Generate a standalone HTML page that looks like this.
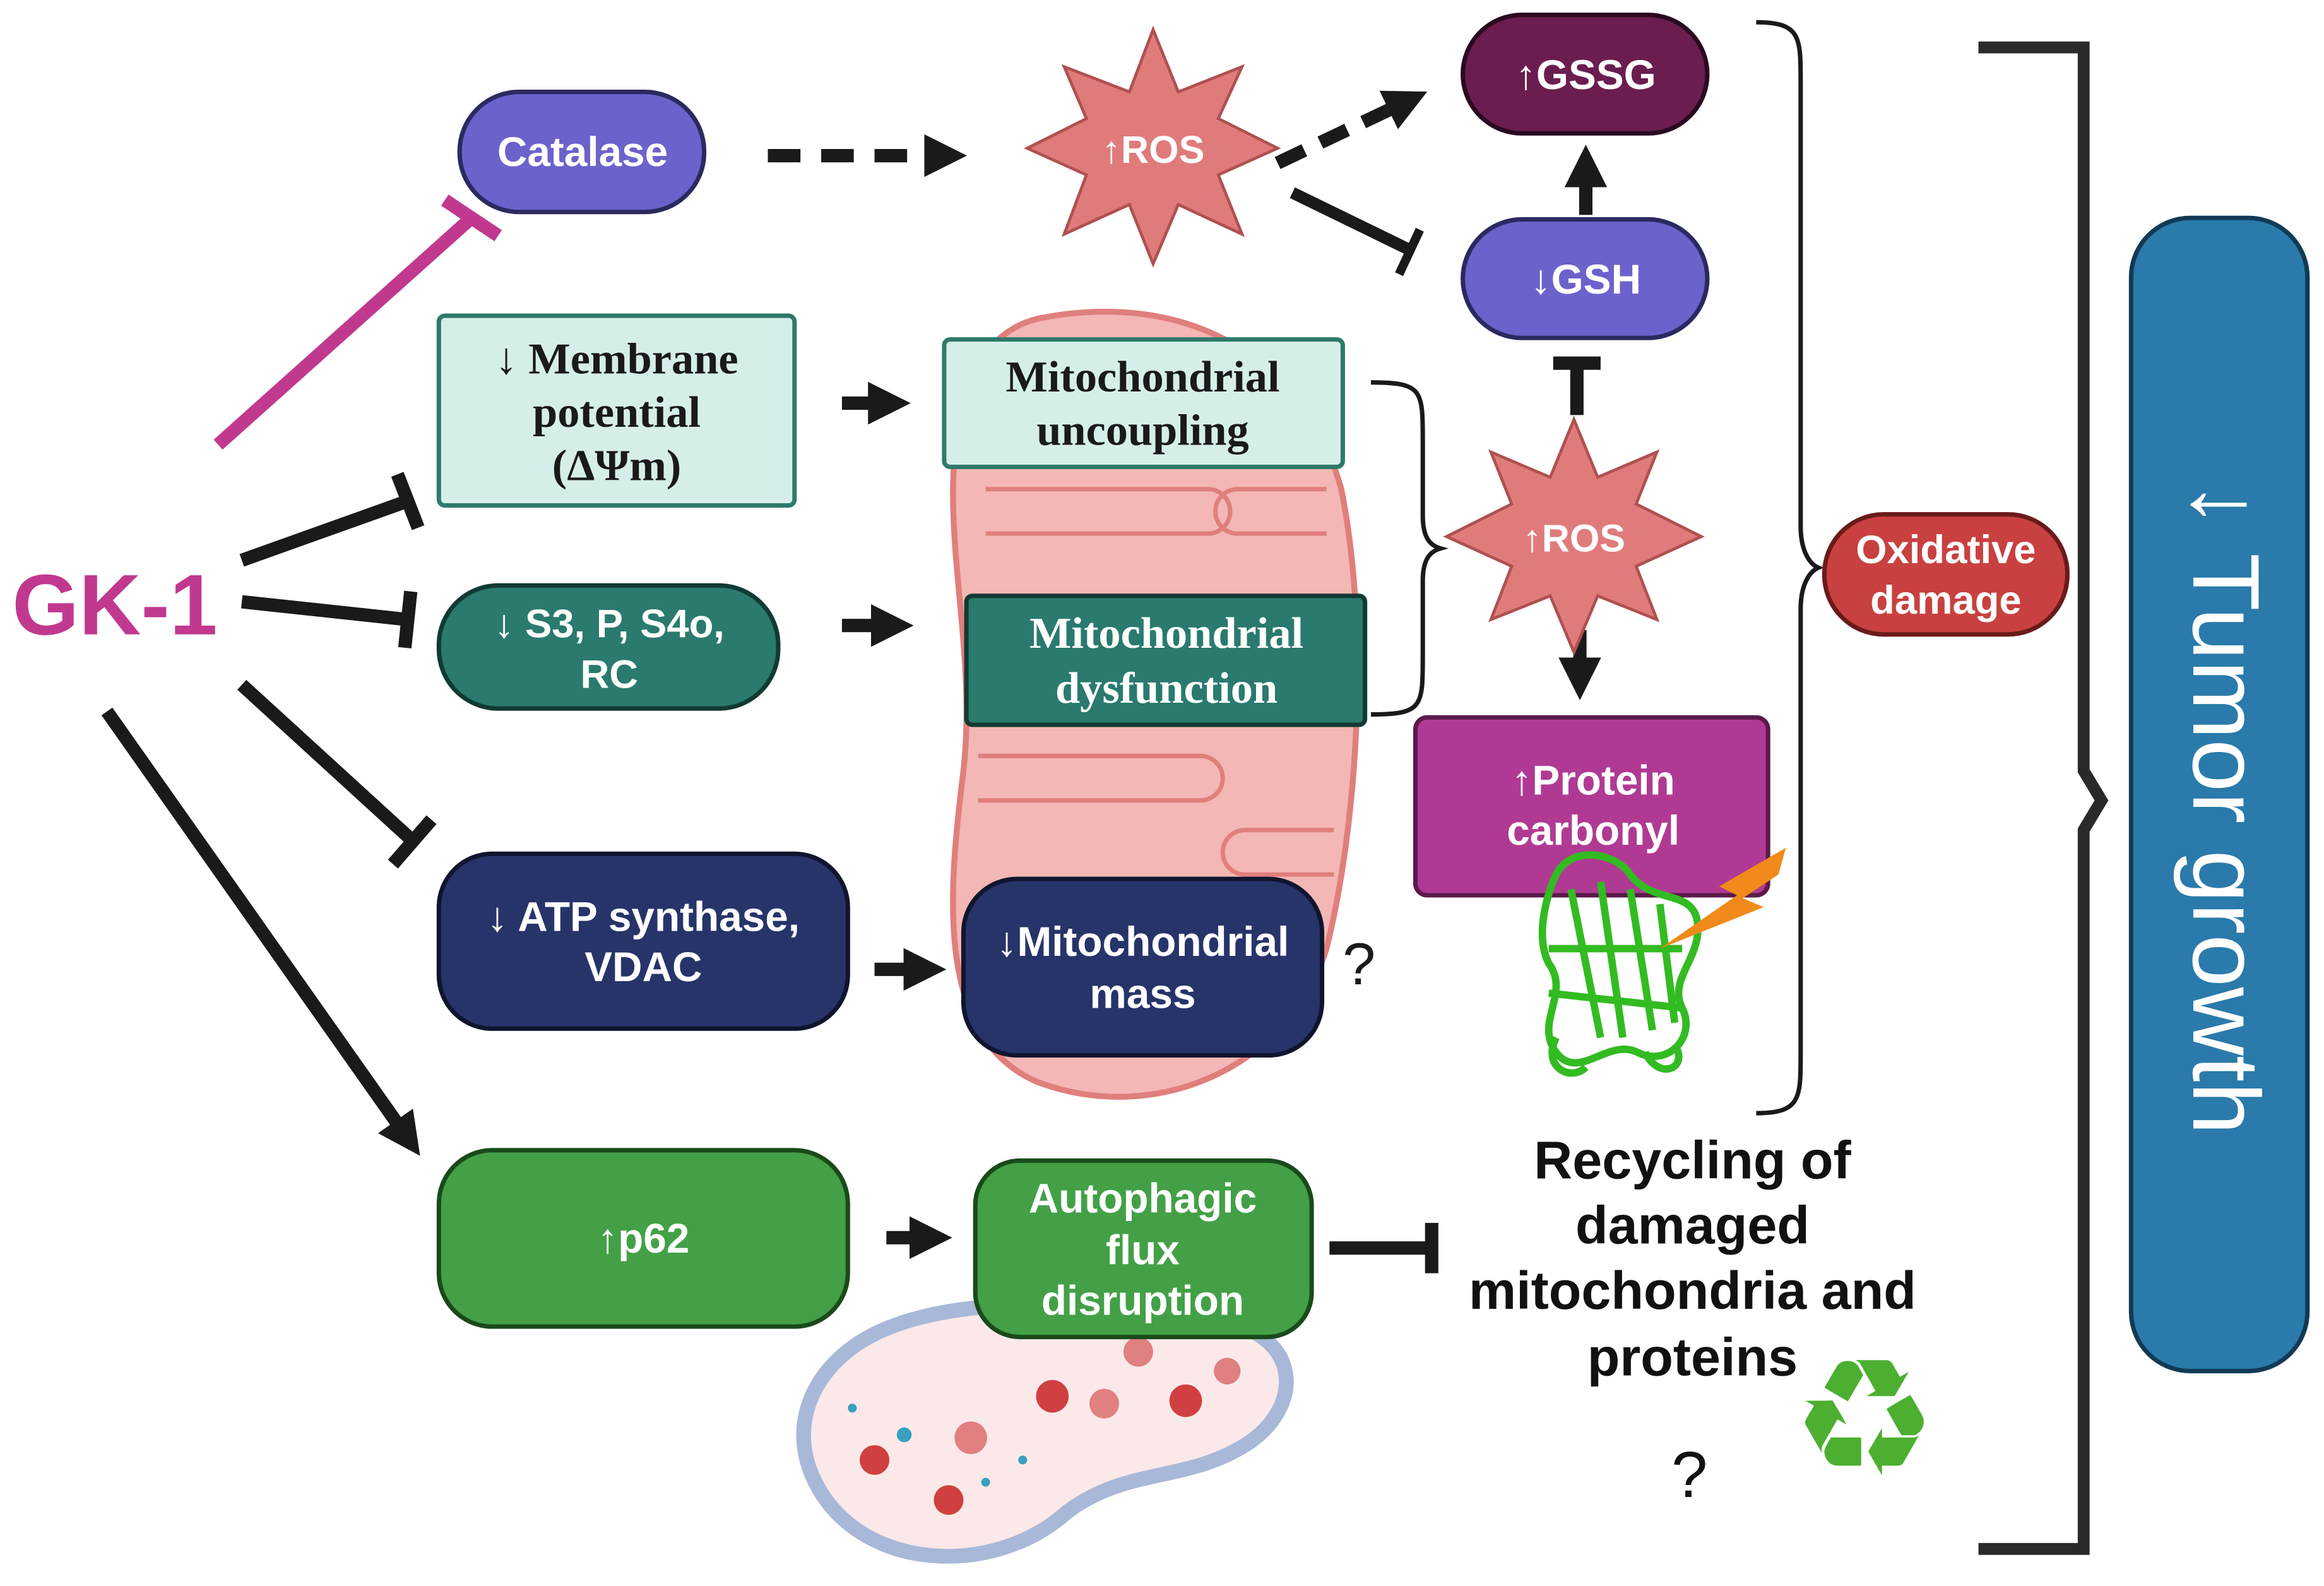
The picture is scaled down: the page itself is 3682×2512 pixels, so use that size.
<!DOCTYPE html>
<html><head><meta charset="utf-8"><style>
html,body{margin:0;padding:0;background:#fff}
svg{display:block}
.s{font-family:"Liberation Sans",sans-serif;font-weight:bold;fill:#fff}
.r{font-family:"Liberation Serif",serif;font-weight:bold;fill:#1a1a1a}
</style></head><body>
<svg width="3682" height="2512" viewBox="0 0 1568 1070" xmlns="http://www.w3.org/2000/svg">
<defs>
<marker id="ah" viewBox="0 0 10 10" refX="5" refY="5" markerWidth="3.2" markerHeight="3.2" orient="auto"><path d="M0,0L10,5L0,10z" fill="#1a1a1a"/></marker>
</defs>
<rect width="1568" height="1070" fill="#fff"/>
<path d="M700,215 C800,195 880,240 905,330 C925,430 915,560 895,640 C870,720 780,760 700,730 C630,700 640,600 650,520 C660,430 630,350 650,270 C660,235 680,220 700,215Z" fill="#f3b7b5" stroke="#e07f7c" stroke-width="4"/>
<g fill="none" stroke="#e07f7c" stroke-width="3">
<path d="M665,330 h150 a15,15 0 0 1 0,30 h-150"/>
<path d="M895,330 h-60 a15,15 0 0 0 0,30 h60"/>
<path d="M660,510 h150 a15,15 0 0 1 0,30 h-150"/>
<path d="M900,560 h-60 a15,15 0 0 0 0,30 h60"/>
</g>
<path d="M590,900 C650,870 760,880 820,890 C880,900 880,950 840,975 C800,1000 760,990 720,1020 C670,1065 580,1060 550,1000 C530,960 550,920 590,900Z" fill="#fbe9e9" stroke="#a8b8d8" stroke-width="10"/>
<g fill="#d04040"><circle cx="710" cy="942" r="11"/><circle cx="800" cy="945" r="11"/><circle cx="590" cy="985" r="10"/><circle cx="640" cy="1012" r="10"/><circle cx="655" cy="970" r="11" fill="#e08080"/><circle cx="768" cy="912" r="10" fill="#e08080"/><circle cx="745" cy="947" r="10" fill="#e08080"/><circle cx="828" cy="925" r="9" fill="#e08080"/></g>
<g fill="#3a9fc0"><circle cx="610" cy="968" r="5"/><circle cx="575" cy="950" r="3"/><circle cx="665" cy="1000" r="3"/><circle cx="690" cy="985" r="3"/></g>
<g stroke="#1a1a1a" stroke-width="9" fill="none">
<line x1="147" y1="300" x2="318" y2="147" stroke="#c0398f"/>
<line x1="300" y1="135" x2="336" y2="159" stroke="#c0398f"/>
<line x1="163" y1="378" x2="275" y2="338"/><line x1="268" y1="320" x2="282" y2="356"/>
<line x1="163" y1="406" x2="275" y2="418"/><line x1="277" y1="399" x2="273" y2="437"/>
<line x1="163" y1="462" x2="278" y2="567"/><line x1="265" y1="583" x2="291" y2="553"/>
<line x1="72" y1="480" x2="275" y2="768" marker-end="url(#ah)"/>
<line x1="568" y1="272" x2="600" y2="272" marker-end="url(#ah)"/>
<line x1="568" y1="422" x2="602" y2="422" marker-end="url(#ah)"/>
<line x1="590" y1="654" x2="624" y2="654" marker-end="url(#ah)"/>
<line x1="598" y1="835" x2="628" y2="835" marker-end="url(#ah)"/>
<line x1="897" y1="842" x2="962" y2="842"/><line x1="966" y1="825" x2="966" y2="859"/>
<line x1="518" y1="105" x2="638" y2="105" stroke-dasharray="22,14" marker-end="url(#ah)"/>
<line x1="862" y1="110" x2="950" y2="68" stroke-dasharray="20,12" marker-end="url(#ah)"/>
<line x1="872" y1="130" x2="950" y2="168" stroke-width="8"/><line x1="944" y1="185" x2="958" y2="155" stroke-width="6"/>
<line x1="1070" y1="145" x2="1070" y2="112" marker-end="url(#ah)"/>
<line x1="1064" y1="280" x2="1064" y2="245"/><line x1="1048" y1="245" x2="1080" y2="245"/>
<line x1="1066" y1="425" x2="1066" y2="458" marker-end="url(#ah)"/>
</g>
<g fill="none" stroke="#1a1a1a" stroke-width="3">
<path d="M925,258 c35,0 35,5 35,40 v50 c0,15 5,20 12,22 c-7,2 -12,7 -12,22 v50 c0,35 0,40 -35,40"/>
<path d="M1185,15 c30,0 30,10 30,40 v300 c0,15 5,25 12,28 c-7,3 -12,13 -12,28 v300 c0,30 0,40 -30,40"/>
</g>
<path d="M1335,32 H1406 V520 L1418,540 L1406,560 V1045 H1335" fill="none" stroke="#2a2a2a" stroke-width="8"/>
<polygon points="778,20 795,62 838,45 822,80 862,100 822,118 838,158 795,138 778,178 762,138 718,158 733,118 693,100 733,80 718,45 762,62" fill="#e07b7b" stroke="#b05050" stroke-width="2"/>
<text x="778" y="110" text-anchor="middle" class="s" font-size="26">↑ROS</text>
<polygon points="1062,283 1078,322 1118,305 1104,340 1148,362 1104,382 1118,418 1078,402 1062,440 1046,402 1006,418 1020,382 976,362 1020,340 1006,305 1046,322" fill="#e07b7b" stroke="#b05050" stroke-width="2"/>
<text x="1062" y="372" text-anchor="middle" class="s" font-size="26">↑ROS</text>
<rect x="310" y="62" width="165" height="81" rx="40" fill="#6b62cc" stroke="#2a2a60" stroke-width="3"/>
<text x="393" y="112" text-anchor="middle" class="s" font-size="28">Catalase</text>
<rect x="987" y="10" width="165" height="80" rx="40" fill="#6b1d4f" stroke="#2a0a20" stroke-width="3"/>
<text x="1070" y="60" text-anchor="middle" class="s" font-size="28">↑GSSG</text>
<rect x="987" y="148" width="165" height="80" rx="40" fill="#6b62cc" stroke="#2a2a60" stroke-width="3"/>
<text x="1070" y="198" text-anchor="middle" class="s" font-size="28">↓GSH</text>
<rect x="296" y="213" width="240" height="128" rx="4" fill="#d6eeea" stroke="#2f7a6a" stroke-width="3"/>
<text x="416" y="252" text-anchor="middle" class="r" font-size="30">↓ Membrane</text>
<text x="416" y="288" text-anchor="middle" class="r" font-size="30">potential</text>
<text x="416" y="324" text-anchor="middle" class="r" font-size="30">(ΔΨm)</text>
<rect x="637" y="229" width="269" height="86" rx="4" fill="#d6eeea" stroke="#2f7a6a" stroke-width="3"/>
<text x="771" y="264" text-anchor="middle" class="r" font-size="30">Mitochondrial</text>
<text x="771" y="300" text-anchor="middle" class="r" font-size="30">uncoupling</text>
<rect x="296" y="395" width="229" height="83" rx="40" fill="#2a7a6e" stroke="#113a33" stroke-width="3"/>
<text x="411" y="430" text-anchor="middle" class="s" font-size="27">↓ S3, P, S4o,</text>
<text x="411" y="464" text-anchor="middle" class="s" font-size="27">RC</text>
<rect x="652" y="402" width="269" height="87" rx="4" fill="#2a7a6e" stroke="#113a33" stroke-width="3"/>
<text x="787" y="437" text-anchor="middle" class="r" font-size="30" style="fill:#fff">Mitochondrial</text>
<text x="787" y="474" text-anchor="middle" class="r" font-size="30" style="fill:#fff">dysfunction</text>
<rect x="955" y="484" width="238" height="120" rx="8" fill="#b03a93" stroke="#5a1a4a" stroke-width="3"/>
<text x="1075" y="536" text-anchor="middle" class="s" font-size="28">↑Protein</text>
<text x="1075" y="570" text-anchor="middle" class="s" font-size="28">carbonyl</text>
<g fill="none" stroke="#33bb22" stroke-width="5">
<path d="M1050,590 c10,-20 40,-15 50,0 c15,20 40,10 45,30 c5,25 -20,40 -10,60 c10,20 -10,40 -30,30 c-20,-10 -40,20 -55,0 c-15,-20 10,-40 -5,-60 c-10,-20 0,-50 5,-60z"/>
<path d="M1060,600 l20,100 M1080,595 l15,105 M1100,600 l15,95 M1120,610 l10,80 M1045,640 l90,0 M1045,670 l90,10"/>
<path d="M1050,700 c-10,20 10,30 20,20 M1110,710 c10,20 30,10 20,-5"/>
</g>
<polygon points="1205,572 1160,598 1172,604 1120,640 1190,612 1176,606 1200,590" fill="#f08a1a"/>
<rect x="1231" y="347" width="164" height="81" rx="40" fill="#c94040" stroke="#6a1a1a" stroke-width="3"/>
<text x="1313" y="380" text-anchor="middle" class="s" font-size="27">Oxidative</text>
<text x="1313" y="414" text-anchor="middle" class="s" font-size="27">damage</text>
<rect x="1438" y="147" width="119" height="778" rx="40" fill="#2a7aab" stroke="#123a55" stroke-width="3"/>
<text transform="translate(1480,545) rotate(90)" text-anchor="middle" font-family="Liberation Sans,sans-serif" font-size="64" fill="#fff"><tspan font-weight="bold">↓</tspan> Tumor growth</text>
<rect x="296" y="576" width="276" height="118" rx="36" fill="#27346a" stroke="#10152e" stroke-width="3"/>
<text x="434" y="628" text-anchor="middle" class="s" font-size="28">↓ ATP synthase,</text>
<text x="434" y="662" text-anchor="middle" class="s" font-size="28">VDAC</text>
<rect x="650" y="593" width="242" height="119" rx="36" fill="#27346a" stroke="#10152e" stroke-width="3"/>
<text x="771" y="645" text-anchor="middle" class="s" font-size="28">↓Mitochondrial</text>
<text x="771" y="680" text-anchor="middle" class="s" font-size="28">mass</text>
<text x="917" y="664" text-anchor="middle" font-family="Liberation Sans,sans-serif" font-size="40" fill="#1a1a1a">?</text>
<rect x="296" y="776" width="276" height="119" rx="36" fill="#43a047" stroke="#1a4a1a" stroke-width="3"/>
<text x="434" y="845" text-anchor="middle" class="s" font-size="28">↑p62</text>
<rect x="658" y="783" width="227" height="119" rx="30" fill="#43a047" stroke="#1a4a1a" stroke-width="3"/>
<text x="771" y="818" text-anchor="middle" class="s" font-size="28">Autophagic</text>
<text x="771" y="853" text-anchor="middle" class="s" font-size="28">flux</text>
<text x="771" y="887" text-anchor="middle" class="s" font-size="28">disruption</text>
<g font-family="Liberation Sans,sans-serif" font-weight="bold" font-size="36" fill="#111" text-anchor="middle">
<text x="1142" y="795">Recycling of</text>
<text x="1142" y="839">damaged</text>
<text x="1142" y="883">mitochondria and</text>
<text x="1142" y="928">proteins</text>
</g>
<text x="1140" y="1010" text-anchor="middle" font-family="Liberation Sans,sans-serif" font-size="44" fill="#111">?</text>
<text x="1258" y="995" text-anchor="middle" font-family="DejaVu Sans,sans-serif" font-size="110" fill="#4caf30">♻</text>
<text x="8" y="428" font-family="Liberation Sans,sans-serif" font-weight="bold" font-size="58" fill="#c0398f">GK-1</text>
</svg>
</body></html>
